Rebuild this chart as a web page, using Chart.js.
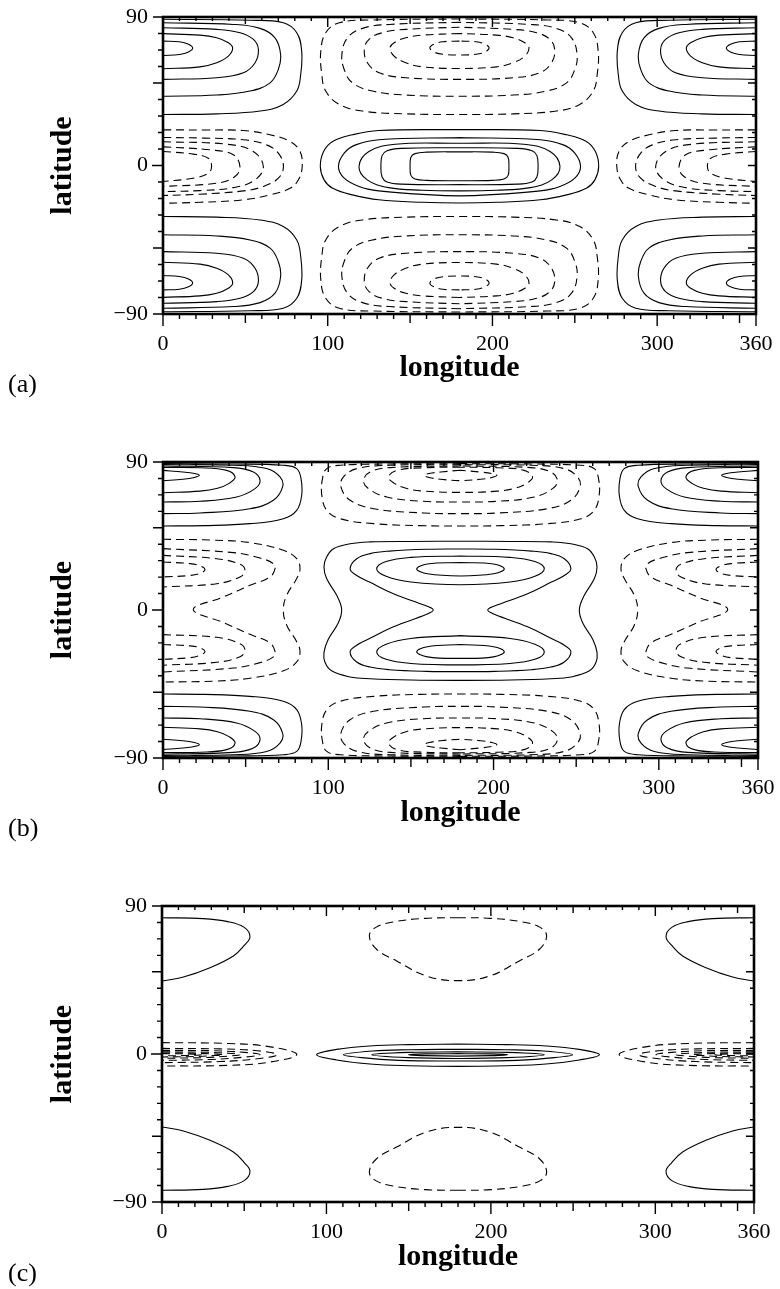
<!DOCTYPE html>
<html>
<head>
<meta charset="utf-8">
<script src="https://cdn.jsdelivr.net/npm/chart.js@4.4.0/dist/chart.umd.min.js"></script>
<style>
  html, body { margin: 0; padding: 0; background: #fff; }
  body { width: 780px; height: 1289px; position: relative; overflow: hidden; }
  .panel { position: absolute; left: 0; width: 780px; height: 430px; }
  .tag { position: absolute; left: 8px; font-family: "Liberation Serif", "DejaVu Serif", serif; font-size: 26px; line-height: 26px; color: #000; }
</style>
</head>
<body>
<div class="panel" style="top:0px"><canvas id="chartA" width="780" height="430"></canvas></div>
<div class="panel" style="top:445px"><canvas id="chartB" width="780" height="430"></canvas></div>
<div class="panel" style="top:889px"><canvas id="chartC" width="780" height="430"></canvas></div>
<div class="tag" style="top:371px">(a)</div>
<div class="tag" style="top:815px">(b)</div>
<div class="tag" style="top:1260px">(c)</div>

<script>
// --- AXES ---
const LON_LABELS = [0, 100, 200, 300, 360];
const LAT_LABELS = [-90, 0, 90];
const LON_TICKS = [0, 10, 20, 30, 40, 50, 60, 70, 80, 90, 100, 110, 120, 130, 140, 150, 160, 170, 180,
  190, 200, 210, 220, 230, 240, 250, 260, 270, 280, 290, 300, 310, 320, 330, 340, 350, 360];
const LAT_TICKS = [-90, -80, -70, -60, -50, -40, -30, -20, -10, 0, 10, 20, 30, 40, 50, 60, 70, 80, 90];

// --- CONTOURS, [longitude, latitude] ---
// poleWest: northern C curves leaving the lon 0 edge (solid); the picture repeats them south and at lon 360
// poleMid:  western halves of the northern loops round lon 180 (dashed); repeated south
// eqWest:   C curves leaving the lon 0 edge across the equator (dashed); repeated at lon 360
// eqMid:    western halves of the equatorial loops round lon 180 (solid)

// panel (a)
const aPoleWest = [
  [[0, 75.4], [10, 75], [15.5, 73.5], [18, 71.2], [15.5, 68.8], [10, 67.3], [0, 66.7]],
  [[0, 79.9], [22.5, 79], [32.6, 77.4], [39.7, 74.4], [42.3, 71.2], [39.7, 66.3], [32.6, 62.3], [22.5, 59.8], [0, 58.6]],
  [[0, 83.5], [32.6, 82.5], [46.8, 80.5], [54.9, 76.4], [57.9, 70.4], [55.9, 62.3], [48.8, 56.2], [32.6, 53.2], [0, 52.2]],
  [[0, 86.5], [42.7, 85.5], [58.9, 83.1], [68, 77.4], [71.4, 67.3], [70, 58.2], [65, 50.1], [52.8, 45.1], [32.6, 42.7], [0, 42]],
  [[0, 88.6], [52.8, 88], [73, 86.5], [81.2, 80.5], [84.2, 69.3], [83.6, 55.2], [81.2, 45.1], [73, 37], [58.9, 33], [32.6, 31.3], [0, 30.9]]
];
const aPoleMid = [
  [[180, 75.4], [170, 75], [164.5, 73.5], [162, 71.3], [164.5, 68.8], [170, 67.4], [180, 67]],
  [[180, 80], [157.5, 79], [147.4, 77.4], [140.3, 74.4], [137.8, 71.2], [140.3, 66.3], [147.4, 62.3], [157.5, 59.8], [180, 58.8]],
  [[180, 83.8], [147.4, 82.5], [133.2, 80.5], [125.1, 76.4], [122.2, 70.4], [124.1, 62.3], [131.2, 56.2], [147.4, 53.2], [180, 52.2]],
  [[180, 86.8], [137.3, 85.5], [121.1, 83.1], [112, 77.4], [108.6, 67.3], [110, 58.2], [115, 50.1], [127.2, 45.1], [147.4, 42.7], [180, 42]],
  [[180, 88.8], [127.2, 88.2], [107, 86.5], [98.8, 80.5], [95.8, 69.3], [96.4, 55.2], [98.8, 45.1], [107, 37], [121.1, 33], [147.4, 31.3], [180, 30.9]]
];
const aEqWest = [
  [[0, 21.6], [25, 21.5], [48.8, 21.2], [64.9, 18.6], [77.1, 14.6], [83.2, 8.5], [84.5, -0.6], [82.2, -8.7], [77.1, -13.8], [64.9, -17.8], [48.8, -20.8], [22.5, -22.3], [0, -22.9]],
  [[0, 17], [25, 16.6], [48.8, 15.6], [62.9, 12.5], [70, 7.5], [73.1, -0.6], [70, -7.7], [60.9, -12.7], [48.8, -15.4], [22.5, -17.4], [0, -18.2]],
  [[0, 14.4], [38.7, 12.9], [54.8, 8.5], [60.9, -0.6], [55.9, -8.7], [42.7, -13.4], [22.5, -15.2], [0, -15.8]],
  [[0, 11.3], [28.5, 9.5], [42.7, 6.5], [46.7, -0.6], [43.7, -6.7], [32.6, -10.7], [0, -12.7]],
  [[0, 8.5], [18.4, 6.9], [27.5, 4.4], [29.5, -0.5], [27.5, -4.7], [18.4, -7.7], [0, -9.7]]
];
const aEqMid = [
  [[180, 21.8], [131, 21.2], [115, 18.6], [103, 14.6], [97.5, 8.5], [95.5, -0.6], [97.8, -8.7], [103, -13.8], [115, -17.8], [131, -20.8], [157.5, -22.3], [180, -22.7]],
  [[180, 16.9], [131, 15.6], [117, 12.5], [110, 7.5], [106.5, -0.6], [110, -7.7], [119, -12.7], [131, -15.4], [157.5, -17.5], [180, -18.4]],
  [[180, 13.5], [141, 12.9], [125, 8.5], [119, -0.6], [124, -8.7], [137, -13.4], [157.5, -15], [180, -15.4]],
  [[180, 10.8], [145, 10.4], [136, 9], [133, 6], [132.3, -0.5], [133, -7], [136, -10], [145, -11.3], [180, -11.6]],
  [[180, 8.3], [160, 8.1], [153, 7.2], [150.5, 5], [150, -0.5], [150.5, -6], [153, -8.2], [160, -9], [180, -9.2]]
];

// panel (b)
const bPoleWest = [
  [[0, 84.9], [12, 83.9], [19, 83], [22, 81.9], [19, 80.6], [12, 79.5], [0, 78.6]],
  [[0, 86.7], [22.4, 86.5], [38.5, 84.9], [43.6, 80.9], [40, 77], [33, 74], [22.4, 72.3], [0, 71.3]],
  [[0, 87.6], [42.6, 86.6], [54.7, 83.9], [58.7, 78.8], [55.7, 73.8], [44.6, 68.7], [22.4, 66.1], [0, 65.7]],
  [[0, 88.4], [42.6, 88], [62.7, 86], [70.8, 80.9], [72.4, 75], [66.8, 66.7], [52.6, 61.6], [22.4, 59], [0, 58.6]],
  [[0, 89], [42.6, 88.8], [72.8, 88], [80.9, 86], [83.5, 79.9], [83.9, 69.7], [80.9, 60.6], [72.8, 55.5], [52.6, 52.5], [25, 51.3], [0, 51.1]]
];
const bPoleMid = [
  [[180, 85], [168, 83.9], [161, 83], [158, 81.9], [161, 80.6], [168, 79.5], [180, 78.7]],
  [[180, 86.8], [157.6, 86.5], [141.5, 84.9], [136.4, 80.9], [140, 77], [147, 74], [157.6, 72.3], [180, 71.5]],
  [[180, 87.6], [137.4, 86.6], [125.3, 83.9], [121.3, 78.8], [124.3, 73.8], [135.4, 68.7], [157.6, 66.1], [180, 65.7]],
  [[180, 88.4], [137.4, 88], [117.3, 86], [109.2, 80.9], [107.6, 75], [113.2, 66.7], [127.4, 61.6], [157.6, 59], [180, 58.6]],
  [[180, 89], [137.4, 88.8], [107.2, 88], [99.1, 86], [96.5, 79.9], [96.1, 69.7], [99.1, 60.6], [107.2, 55.5], [127.4, 52.5], [155, 51.3], [180, 51.1]]
];
const bEqWest = [
  [[0, 43], [30, 42.5], [52.6, 41], [72.8, 36.3], [80.9, 31.2], [82.9, 25.1], [80.9, 19.1], [74.8, 8.9], [72.8, 0], [74.8, -9.1], [80.9, -19.3], [82.9, -25.3], [80.9, -31.6], [72.8, -37], [52.6, -41.5], [30, -43.3], [0, -43.8]],
  [[0, 37.3], [42.6, 34.9], [58.7, 31.6], [66.8, 28.2], [67.8, 25.1], [64.7, 20.1], [52.6, 15], [36.5, 7.9], [18.3, 0.3], [36.5, -7.6], [52.6, -14.8], [64.7, -20], [67.8, -25.3], [66.8, -28.5], [58.7, -32], [42.6, -35.3], [0, -37.7]],
  [[0, 33.2], [32.5, 31.2], [46.6, 27.8], [49.6, 24.1], [46.6, 20.1], [32.5, 16], [0, 14]],
  [[0, -15], [32.5, -16.6], [46.6, -20.5], [49.6, -24.5], [46.6, -28.4], [32.5, -31.8], [0, -33.6]],
  [[0, 29.2], [16.3, 28.2], [22.5, 26.8], [25.4, 24.6], [22.5, 22.3], [16.3, 21], [0, 20.1]],
  [[0, -21], [16.3, -21.8], [22.5, -23], [25.4, -25.2], [22.5, -27.5], [16.3, -29], [0, -30]]
];
const bEqMid = [
  [[180, 41.8], [150, 41.7], [125.3, 41.4], [113.2, 40.3], [103.1, 37.3], [99, 32.2], [97.4, 26.2], [99, 19.1], [105.1, 8.9], [108.1, 0.3], [106.1, -7.8], [100, -17.8], [97.4, -25.8], [98, -31.8], [102, -37], [113.2, -40.7], [125.3, -41.8], [150, -42.6], [180, -42.8]],
  [[180, 37.1], [159.5, 36.9], [137, 35.8], [125.3, 34.3], [117.2, 31.2], [113.2, 25.1], [117.2, 21], [125, 17], [139.4, 9.9], [159.5, 2.4], [163.5, 0], [159.5, -2.6], [139.4, -10.2], [125, -17.4], [117.2, -21.4], [113.2, -25.5], [117.2, -31.6], [125.3, -34.7], [137, -36.3], [159.5, -37.3], [180, -37.5]],
  [[180, 32.8], [150, 32], [135, 29.5], [129.3, 25.1], [135, 20.5], [150, 17], [180, 15.4]],
  [[180, -15.6], [150, -17.3], [135, -20.8], [129.3, -25.5], [135, -30], [150, -32.5], [180, -33.4]],
  [[180, 28.8], [160, 28], [153.5, 25], [160, 22], [180, 20.7]],
  [[180, -21], [160, -22.3], [153.5, -25.4], [160, -28.5], [180, -29.4]]
];

// panel (c)
const cPoleWest = [
  [[0, 82.9], [25, 82.3], [40, 80.5], [50, 77], [53.5, 71.3], [50, 66], [43.4, 59.6], [29.2, 52.5], [13, 46.8], [0, 44.4]]
];
const cPoleMid = [
  [[180, 82.9], [160, 82.5], [140.7, 80.3], [130, 77], [126.1, 71.8], [130.5, 63.7], [142.7, 56.6], [160.9, 47.4], [180, 44.6]]
];
const cEqWest = [
  [[0, 6.9], [40, 6.4], [65, 4.5], [82, -0.3], [65, -5], [40, -6.9], [0, -7.3]],
  [[0, 3.4], [35, 3.1], [58, 2], [70, -0.4], [58, -2.9], [35, -4.6], [0, -5.3]],
  [[0, 2.2], [30, 2], [50, 1], [59.6, -0.4], [50, -1.9], [30, -3.3], [0, -3.9]],
  [[0, 1.3], [25, 1.1], [40, 0.5], [47.4, -0.4], [40, -1.3], [25, -2.2], [0, -2.6]],
  [[0, 0.6], [20, 0.5], [32, 0], [37.3, -0.4], [32, -0.9], [20, -1.5], [0, -1.8]],
  [[0, 0.2], [15, 0.1], [24, -0.4], [15, -0.9], [0, -1.1]]
];
const cEqMid = [
  [[180, 6], [150, 5.7], [126.5, 4.9], [106.2, 2.8], [94, -0.4], [106.2, -3.6], [126.5, -6.1], [150, -7.1], [180, -7.5]],
  [[180, 2.9], [150, 2.6], [128, 1.8], [110.3, -0.5], [128, -2.8], [150, -4], [180, -4.3]],
  [[180, 1.3], [150, 1], [127.5, -0.4], [150, -2.2], [180, -2.7]],
  [[180, 0.2], [160, 0.1], [149.8, -0.4], [160, -1], [180, -1.3]]
];

// --- STYLE ---
const SERIF = '"Liberation Serif", "Times New Roman", serif';
const DASH = [8, 5];
const CANVAS_H = 430;
const PLOT_TOP = 17;

// --- HELPERS ---
const flipLat = (pts) => pts.map(([x, y]) => [x, -y]);
const flipLon = (pts) => pts.map(([x, y]) => [360 - x, y]);
const closeLoop = (half) => half.concat(flipLon(half).reverse().slice(1));

function line(pts, dashed) {
  return {
    data: pts.map(([x, y]) => ({ x, y })),
    showLine: true,
    pointRadius: 0,
    borderColor: "#000",
    borderWidth: 1.1,
    borderDash: dashed ? DASH : [],
    tension: 0.4,
    fill: false,
  };
}

function buildDatasets(p) {
  const sets = [];
  p.poleWest.forEach((c) => {
    [c, flipLat(c), flipLon(c), flipLon(flipLat(c))].forEach((v) => sets.push(line(v, false)));
  });
  p.poleMid.forEach((c) => {
    const loop = closeLoop(c);
    sets.push(line(loop, true));
    sets.push(line(flipLat(loop), true));
  });
  p.eqWest.forEach((c) => {
    sets.push(line(c, true));
    sets.push(line(flipLon(c), true));
  });
  p.eqMid.forEach((c) => sets.push(line(closeLoop(c), false)));
  return sets;
}

// no extra room for labels that hang over the plot edges
const noOverhang = (s) => {
  s.paddingLeft = 0; s.paddingRight = 0; s.paddingTop = 0; s.paddingBottom = 0;
};

// frame and tick marks: bottom/left point out, top/right point in
const frameTicks = {
  id: "frameTicks",
  afterDraw(chart) {
    const { ctx, chartArea: { left, right, top, bottom }, scales: { x, y } } = chart;
    ctx.save();
    ctx.strokeStyle = "#000";
    ctx.lineWidth = 1.4;
    ctx.beginPath();
    LON_TICKS.forEach((v) => {
      const px = x.getPixelForValue(v);
      const big = v % 100 === 0 || v === 360;
      const mid = v % 50 === 0;
      const outLen = big ? 12 : mid ? 9 : 5;
      const inLen = big ? 10 : mid ? 7 : 4;
      ctx.moveTo(px, bottom); ctx.lineTo(px, bottom + outLen);
      ctx.moveTo(px, top); ctx.lineTo(px, top + inLen);
    });
    LAT_TICKS.forEach((v) => {
      const py = y.getPixelForValue(v);
      const big = v % 50 === 0 || Math.abs(v) === 90;
      ctx.moveTo(left, py); ctx.lineTo(left - (v === 0 ? 11 : big ? 10 : 5), py);
      ctx.moveTo(right, py); ctx.lineTo(right - (big ? 8 : 4), py);
    });
    ctx.stroke();
    ctx.lineWidth = 2.6;
    ctx.strokeRect(left, top, right - left, bottom - top);
    ctx.restore();
  },
};

function makeChart(id, frame, p) {
  const plotH = frame.bottom - frame.top;
  return new Chart(document.getElementById(id), {
    type: "scatter",
    data: { datasets: buildDatasets(p) },
    options: {
      responsive: false,
      animation: false,
      events: [],
      layout: { padding: { left: 0, top: PLOT_TOP, right: 780 - frame.right, bottom: 0 } },
      plugins: { legend: { display: false }, tooltip: { enabled: false } },
      scales: {
        x: {
          type: "linear", position: "bottom", min: 0, max: 360,
          afterBuildTicks: (s) => { s.ticks = LON_LABELS.map((v) => ({ value: v })); },
          afterFit: (s) => { s.height = CANVAS_H - PLOT_TOP - plotH; noOverhang(s); },
          grid: { display: false, drawTicks: false },
          border: { display: false },
          ticks: { font: { family: SERIF, size: 22 }, color: "#000", padding: 17, maxRotation: 0, minRotation: 0, autoSkip: false },
          title: { display: true, text: "longitude", color: "#000", font: { family: SERIF, size: 30, weight: "bold" }, padding: { top: 0, bottom: 44 } },
        },
        y: {
          type: "linear", position: "left", min: -90, max: 90,
          afterBuildTicks: (s) => { s.ticks = LAT_LABELS.map((v) => ({ value: v })); },
          afterFit: (s) => { s.width = frame.left; noOverhang(s); },
          grid: { display: false, drawTicks: false },
          border: { display: false },
          ticks: {
            font: { family: SERIF, size: 22 }, color: "#000", padding: 15, autoSkip: false,
            callback: (v) => (v < 0 ? "\u2212" + Math.abs(v) : String(v)),
          },
          title: { display: true, text: "latitude", color: "#000", font: { family: SERIF, size: 30, weight: "bold" }, padding: { top: 45, bottom: 0 } },
        },
      },
    },
    plugins: [frameTicks],
  });
}

makeChart("chartA", { left: 163, right: 756, top: 17, bottom: 314 },
  { poleWest: aPoleWest, poleMid: aPoleMid, eqWest: aEqWest, eqMid: aEqMid });
makeChart("chartB", { left: 163, right: 758, top: 17, bottom: 313 },
  { poleWest: bPoleWest, poleMid: bPoleMid, eqWest: bEqWest, eqMid: bEqMid });
makeChart("chartC", { left: 162, right: 754, top: 17, bottom: 313 },
  { poleWest: cPoleWest, poleMid: cPoleMid, eqWest: cEqWest, eqMid: cEqMid });
</script>
</body>
</html>
